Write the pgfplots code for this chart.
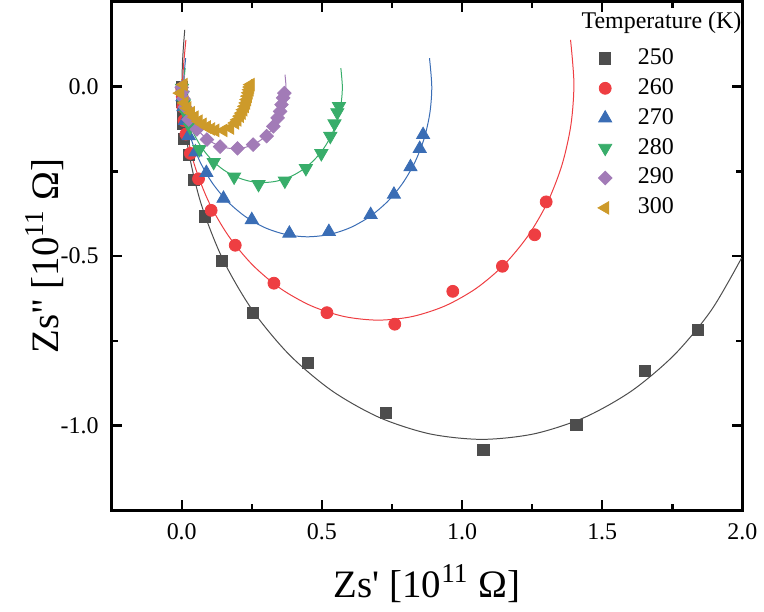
\documentclass[border=0pt]{standalone}
\usepackage{fontspec}
\setmainfont{Liberation Serif}[Ligatures=TeXOff]
\usepackage{pgfplots}
\pgfplotsset{compat=1.18}

\definecolor{c250}{HTML}{4D4D4D}
\definecolor{c260}{HTML}{EE3E42}
\definecolor{c270}{HTML}{3A6DB5}
\definecolor{c280}{HTML}{38AD6A}
\definecolor{c290}{HTML}{A27BB7}
\definecolor{c300}{HTML}{CD9A2A}

\begin{document}
\begin{tikzpicture}
\begin{axis}[
  scale only axis,
  width=316.5pt, height=255pt,
  xmin=-0.25, xmax=2.0, ymin=-1.25, ymax=0.25,
  xtick={0,0.5,1,1.5,2}, ytick={-1,-0.5,0},
  minor x tick num=1, minor y tick num=1,
  tick align=inside,
  major tick length=5pt, minor tick length=3pt,
  tick style={line width=1.2pt, black},
  axis line style={line width=1.5pt},
  /pgf/number format/assume math mode=true,
  /pgf/number format/.cd, fixed, fixed zerofill, precision=1,
  /pgfplots/.cd,
  ticklabel style={font=\fontsize{12}{14}\selectfont},
  xticklabel style={yshift=-3pt},
  yticklabel style={xshift=-3pt},
  xlabel={Zs' [10\textsuperscript{11} Ω]},
  ylabel={Zs" [10\textsuperscript{11} Ω]},
  label style={font=\fontsize{19.5}{22}\selectfont},
  xlabel style={at={(axis description cs:0.5,-0.145)}, anchor=center},
  ylabel style={at={(axis description cs:-0.106,0.5)}, anchor=center},
  legend style={draw=none, fill=none, at={(0.761,0.927)}, anchor=north west,
    font=\fontsize{12}{13}\selectfont, row sep=0pt,
    nodes={text height=8.5pt, text depth=2.5pt},
    /tikz/every odd column/.append style={column sep=11pt}},
  legend cell align=left,
]

% fitted arcs
\addplot[c250, line width=0.5pt, smooth, forget plot] coordinates {
 (0.0109,0.1676) (0.0017,0.0281) (0.0179,-0.1575) (0.0662,-0.3375)
 (0.1449,-0.5064) (0.2518,-0.6591) (0.3835,-0.7908) (0.5362,-0.8977)
 (0.7051,-0.9764) (0.8851,-1.0247) (1.0707,-1.0409) (1.2563,-1.0247)
 (1.4363,-0.9764) (1.6052,-0.8977) (1.7579,-0.7908) (1.8896,-0.6591)
 (1.9965,-0.5064)};
\addplot[c260, line width=0.5pt, smooth, forget plot] coordinates {
 (0.015,0.138) (0.003,0.009) (0.0136,-0.1122) (0.0451,-0.2297)
 (0.0965,-0.340) (0.1663,-0.4397) (0.2523,-0.5257) (0.352,-0.5955)
 (0.4623,-0.6469) (0.5798,-0.6784) (0.701,-0.689) (0.8222,-0.6784)
 (0.9397,-0.6469) (1.050,-0.5955) (1.1497,-0.5257) (1.2357,-0.4397)
 (1.3055,-0.340) (1.3569,-0.2297) (1.3884,-0.1122) (1.399,0.009)
 (1.387,0.138)};
\addplot[c270, line width=0.5pt, smooth, forget plot] coordinates {
 (0.0141,0.0842) (0.006,0) (0.0127,-0.0769) (0.0327,-0.1515)
 (0.0654,-0.2215) (0.1097,-0.2848) (0.1642,-0.3393) (0.2275,-0.3836)
 (0.2975,-0.4163) (0.3721,-0.4363) (0.449,-0.443) (0.5259,-0.4363)
 (0.6005,-0.4163) (0.6705,-0.3836) (0.7338,-0.3393) (0.7883,-0.2848)
 (0.8326,-0.2215) (0.8653,-0.1515) (0.8853,-0.0769) (0.892,0)
 (0.8839,0.0842)};
\addplot[c280, line width=0.5pt, smooth, forget plot] coordinates {
 (0.0124,0.055) (0.007,0) (0.0113,-0.0491) (0.0241,-0.0968)
 (0.0449,-0.1415) (0.0732,-0.1819) (0.1081,-0.2168) (0.1485,-0.2451)
 (0.1932,-0.2659) (0.2409,-0.2787) (0.29,-0.283) (0.3391,-0.2787)
 (0.3868,-0.2659) (0.4315,-0.2451) (0.4719,-0.2168) (0.5068,-0.1819)
 (0.5351,-0.1415) (0.5559,-0.0968) (0.5687,-0.0491) (0.573,0)
 (0.5676,0.055)};
\addplot[c290, line width=0.5pt, smooth, forget plot] coordinates {
 (0.0095,0.0355) (0.006,0) (0.0088,-0.0318) (0.017,-0.0626)
 (0.0305,-0.0915) (0.0488,-0.1176) (0.0714,-0.1402) (0.0975,-0.1585)
 (0.1264,-0.172) (0.1572,-0.1802) (0.189,-0.183) (0.2208,-0.1802)
 (0.2516,-0.172) (0.2805,-0.1585) (0.3066,-0.1402) (0.3292,-0.1176)
 (0.3475,-0.0915) (0.361,-0.0626) (0.3692,-0.0318) (0.372,0)
 (0.3685,0.0355)};
\addplot[c300, line width=0.5pt, smooth, forget plot] coordinates {
 (0.0,0.0219) (-0.002,0) (-0.0001,-0.0219) (0.0056,-0.0431)
 (0.0149,-0.063) (0.0275,-0.081) (0.043,-0.0965) (0.061,-0.1091)
 (0.0809,-0.1184) (0.1021,-0.1241) (0.124,-0.126) (0.1459,-0.1241)
 (0.1671,-0.1184) (0.187,-0.1091) (0.205,-0.0965) (0.2205,-0.081)
 (0.2331,-0.063) (0.2424,-0.0431) (0.2481,-0.0219) (0.25,0)
 (0.2481,0.0219)};

% measured points
\addplot[only marks, mark=square*, mark size=2.8pt, color=c250] coordinates {
 (0.000,0.000) (0.001,-0.020) (0.002,-0.045) (0.003,-0.075) (0.004,-0.110)
 (0.007,-0.155) (0.025,-0.201) (0.043,-0.276) (0.084,-0.383) (0.143,-0.515)
 (0.255,-0.668) (0.449,-0.815) (0.728,-0.962) (1.076,-1.071) (1.408,-0.997)
 (1.653,-0.839) (1.840,-0.717)};
\addlegendentry{250}
\addplot[only marks, mark=*, mark size=3pt, color=c260] coordinates {
 (0.000,-0.005) (0.002,-0.030) (0.004,-0.060) (0.008,-0.100) (0.015,-0.140)
 (0.031,-0.197) (0.060,-0.272) (0.105,-0.365) (0.191,-0.468) (0.329,-0.580)
 (0.518,-0.667) (0.760,-0.701) (0.967,-0.604) (1.144,-0.530) (1.259,-0.437)
 (1.300,-0.340)};
\addlegendentry{260}
\addplot[only marks, mark=triangle*, mark size=3.8pt, color=c270] coordinates {
 (0.001,-0.005) (0.003,-0.030) (0.006,-0.060) (0.012,-0.100) (0.025,-0.145)
 (0.049,-0.193) (0.088,-0.254) (0.149,-0.330) (0.250,-0.393) (0.384,-0.433)
 (0.525,-0.428) (0.674,-0.378) (0.757,-0.318) (0.816,-0.237) (0.849,-0.183)
 (0.861,-0.142)};
\addlegendentry{270}
\addplot[only marks, mark=triangle*, mark size=3.8pt, mark options={rotate=180}, color=c280] coordinates {
 (0.001,-0.004) (0.003,-0.025) (0.008,-0.050) (0.015,-0.080) (0.030,-0.120)
 (0.063,-0.185) (0.114,-0.223) (0.187,-0.266) (0.274,-0.288) (0.368,-0.278)
 (0.443,-0.241) (0.498,-0.197) (0.530,-0.146) (0.545,-0.109) (0.555,-0.076)
 (0.561,-0.058)};
\addlegendentry{280}
\addplot[only marks, mark=square*, mark size=2.4pt, mark options={rotate=45}, color=c290] coordinates {
 (0.000,-0.002) (0.002,-0.015) (0.006,-0.035) (0.012,-0.060) (0.025,-0.097)
 (0.054,-0.126) (0.090,-0.156) (0.137,-0.177) (0.199,-0.182) (0.255,-0.171)
 (0.303,-0.146) (0.327,-0.117) (0.342,-0.092) (0.351,-0.073) (0.356,-0.053)
 (0.362,-0.033) (0.366,-0.019)};
\addlegendentry{290}
\addplot[only marks, mark=triangle*, mark size=3.6pt, mark options={rotate=90}, color=c300] coordinates {
 (0.007,0.006) (-0.005,-0.019) (0.010,-0.048) (0.020,-0.063) (0.033,-0.077)
 (0.046,-0.090) (0.060,-0.102) (0.075,-0.111) (0.090,-0.119) (0.105,-0.125)
 (0.120,-0.129) (0.149,-0.129) (0.173,-0.122) (0.191,-0.107) (0.199,-0.098)
 (0.208,-0.087) (0.214,-0.078) (0.220,-0.068) (0.225,-0.058) (0.230,-0.048)
 (0.233,-0.038) (0.236,-0.028) (0.239,-0.018) (0.242,-0.009) (0.244,-0.001)
 (0.246,0.006)};
\addlegendentry{300}

\node[anchor=west, font=\fontsize{12}{13}\selectfont] at (rel axis cs:0.734,0.959) {Temperature (K)};
\end{axis}
\path ([shift={(-56pt,-51pt)}]current axis.south west) rectangle ([shift={(9.5pt,1pt)}]current axis.north east);
\end{tikzpicture}
\end{document}
